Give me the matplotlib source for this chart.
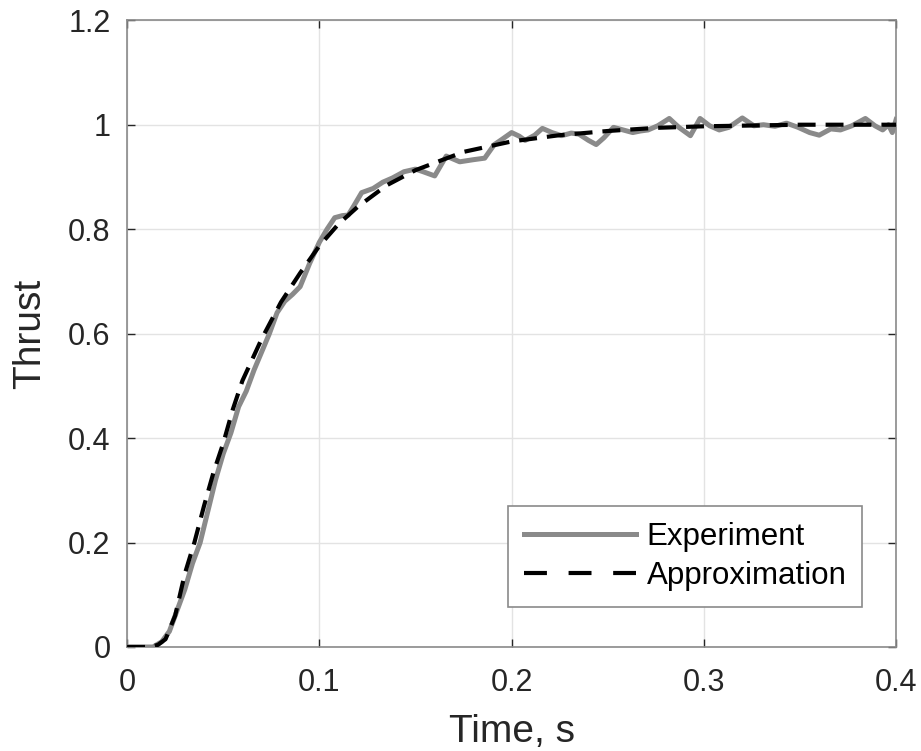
import numpy as np
import matplotlib.pyplot as plt
from matplotlib.lines import Line2D

# Thrust step response: experiment vs approximation
t_exp = [0, 0.0135, 0.018, 0.022, 0.026, 0.03, 0.034, 0.038, 0.042, 0.046, 0.05,
         0.054, 0.058, 0.062, 0.066, 0.07, 0.074, 0.078, 0.082, 0.086, 0.09, 0.095,
         0.1, 0.104, 0.108, 0.112, 0.115, 0.118, 0.122, 0.128, 0.133, 0.138, 0.144,
         0.15, 0.154, 0.16, 0.166, 0.173, 0.18, 0.186, 0.191, 0.195, 0.2, 0.204,
         0.207, 0.212, 0.216, 0.221, 0.226, 0.231, 0.235, 0.24, 0.244, 0.248, 0.253,
         0.258, 0.263, 0.267, 0.271, 0.276, 0.282, 0.287, 0.293, 0.298, 0.303, 0.308,
         0.313, 0.32, 0.326, 0.331, 0.337, 0.343, 0.349, 0.355, 0.36, 0.366, 0.371,
         0.377, 0.384, 0.389, 0.393, 0.396, 0.398, 0.4]
v_exp = [0, 0, 0.01, 0.03, 0.07, 0.11, 0.16, 0.2, 0.26, 0.32, 0.37,
         0.41, 0.46, 0.49, 0.53, 0.565, 0.6, 0.64, 0.662, 0.675, 0.69, 0.735,
         0.775, 0.8, 0.822, 0.826, 0.827, 0.845, 0.87, 0.878, 0.89, 0.898, 0.91,
         0.915, 0.91, 0.902, 0.94, 0.929, 0.933, 0.936, 0.962, 0.972, 0.985, 0.978,
         0.97, 0.98, 0.993, 0.985, 0.979, 0.984, 0.982, 0.97, 0.962, 0.975, 0.995,
         0.99, 0.985, 0.988, 0.99, 0.998, 1.012, 0.995, 0.979, 1.012, 0.998, 0.99,
         0.995, 1.013, 0.998, 1.0, 0.997, 1.003, 0.995, 0.985, 0.98, 0.992, 0.99,
         0.998, 1.012, 0.998, 0.99, 1.0, 0.985, 1.01]

t_app = [0, 0.012, 0.016, 0.02, 0.025, 0.03, 0.035, 0.04, 0.045, 0.05, 0.055, 0.06,
         0.065, 0.07, 0.08, 0.09, 0.1, 0.11, 0.12, 0.135, 0.15, 0.175, 0.2, 0.225,
         0.25, 0.275, 0.3, 0.35, 0.4]
v_app = [0, 0, 0.004, 0.015, 0.06, 0.14, 0.2, 0.27, 0.335, 0.39, 0.455, 0.51,
         0.55, 0.59, 0.66, 0.716, 0.768, 0.81, 0.843, 0.884, 0.913, 0.948, 0.968, 0.98,
         0.988, 0.994, 0.997, 1.0, 1.0]

plt.rcParams['font.family'] = ['Liberation Sans', 'DejaVu Sans']

fig = plt.figure(figsize=(9.21, 7.51), dpi=100)
ax = fig.add_axes([0.138, 0.1385, 0.835, 0.8345])

grey = '#8a8a8a'
ax.plot(t_exp, v_exp, color=grey, lw=3.6, zorder=2)
ax.plot(t_app, v_app, color='black', lw=3.0, ls=(0, (4.3, 2.4)), zorder=3)

ax.set_xlim(0, 0.4)
ax.set_ylim(0, 1.2)
ax.set_xticks([0, 0.1, 0.2, 0.3, 0.4])
ax.set_xticklabels(['0', '0.1', '0.2', '0.3', '0.4'])
ax.set_yticks([0, 0.2, 0.4, 0.6, 0.8, 1.0, 1.2])
ax.set_yticklabels(['0', '0.2', '0.4', '0.6', '0.8', '1', '1.2'])

ax.grid(True, color='#e3e3e3', lw=1.0)
ax.set_axisbelow(True)
ax.tick_params(direction='in', top=True, right=True, length=6, width=1.0,
               colors='#262626', labelsize=22)
ax.tick_params(axis='y', pad=12)
ax.tick_params(axis='x', pad=15)
for s in ax.spines.values():
    s.set_color(grey)
    s.set_linewidth(1.2)

ax.set_xlabel('Time, s', fontsize=28, color='#262626', labelpad=12)
ax.set_ylabel('Thrust', fontsize=28, color='#262626', labelpad=14)

# legend handles drawn with the longer dash seen in the legend box
handles = [Line2D([], [], color=grey, lw=3.6),
           Line2D([], [], color='black', lw=3.0, ls=(0, (5.5, 5.2)))]
leg = ax.legend(handles, ['Experiment', 'Approximation'], loc='lower right',
                bbox_to_anchor=(0.956, 0.064), fontsize=22.5,
                handlelength=3.6, fancybox=False, framealpha=1, borderpad=0.5,
                handletextpad=0.33, labelspacing=0.3, borderaxespad=0)
leg.get_frame().set_edgecolor(grey)
leg.get_frame().set_linewidth(1.2)

plt.savefig('out.png', dpi=100)
